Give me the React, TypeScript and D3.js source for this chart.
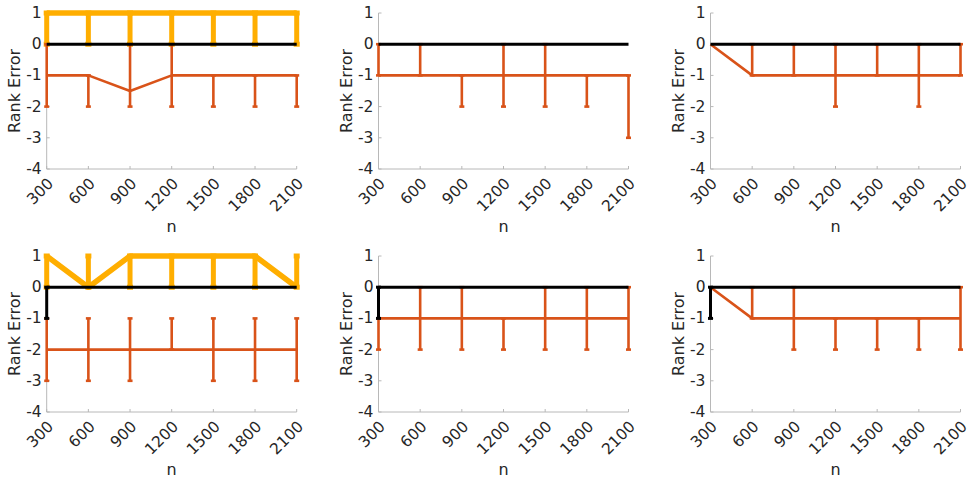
import React from "react";
import * as d3 from "d3";

const nValues = [300, 600, 900, 1200, 1500, 1800, 2100];
const yTicks = [-4, -3, -2, -1, 0, 1];
const xLabel = "n";
const yLabel = "Rank Error";

// Panel 1
const p1Yellow = [1, 1, 1, 1, 1, 1, 1];
const p1YellowLow = [0, 0, 0, 0, 0, 0, 0];
const p1YellowHigh = [1, 1, 1, 1, 1, 1, 1];
const p1Black = [0, 0, 0, 0, 0, 0, 0];
const p1Red = [-1, -1, -1.5, -1, -1, -1, -1];
const p1RedLow = [-2, -2, -2, -2, -2, -2, -2];
const p1RedHigh = [0, -1, 0, 0, -1, -1, -1];

// Panel 2
const p2Black = [0, 0, 0, 0, 0, 0, 0];
const p2Red = [-1, -1, -1, -1, -1, -1, -1];
const p2RedLow = [-1, -1, -2, -2, -2, -2, -3];
const p2RedHigh = [0, 0, -1, 0, 0, -1, -1];

// Panel 3
const p3Black = [0, 0, 0, 0, 0, 0, 0];
const p3Red = [0, -1, -1, -1, -1, -1, -1];
const p3RedLow = [0, -1, -1, -2, -1, -2, -1];
const p3RedHigh = [0, 0, 0, 0, 0, 0, 0];

// Panel 4
const p4Yellow = [1, 0, 1, 1, 1, 1, 0];
const p4YellowLow = [0, 0, 0, 0, 0, 0, 0];
const p4YellowHigh = [1, 1, 1, 1, 1, 1, 1];
const p4Black = [0, 0, 0, 0, 0, 0, 0];
const p4BlackLow = [-1, 0, 0, 0, 0, 0, 0];
const p4BlackHigh = [0, 0, 0, 0, 0, 0, 0];
const p4Red = [-2, -2, -2, -2, -2, -2, -2];
const p4RedLow = [-3, -3, -3, -2, -3, -3, -3];
const p4RedHigh = [-1, -1, -1, -1, -1, -1, -1];

// Panel 5
const p5Black = [0, 0, 0, 0, 0, 0, 0];
const p5BlackLow = [-1, 0, 0, 0, 0, 0, 0];
const p5BlackHigh = [0, 0, 0, 0, 0, 0, 0];
const p5Red = [-1, -1, -1, -1, -1, -1, -1];
const p5RedLow = [-2, -2, -2, -2, -2, -2, -2];
const p5RedHigh = [-1, 0, 0, -1, 0, 0, 0];

// Panel 6
const p6Black = [0, 0, 0, 0, 0, 0, 0];
const p6BlackLow = [-1, 0, 0, 0, 0, 0, 0];
const p6BlackHigh = [0, 0, 0, 0, 0, 0, 0];
const p6Red = [0, -1, -1, -1, -1, -1, -1];
const p6RedLow = [0, -1, -2, -2, -2, -2, -2];
const p6RedHigh = [0, 0, 0, -1, -1, -1, 0];

type Series = {
  values: number[];
  low?: number[];
  high?: number[];
  color: string;
  lineWidth: number;
  barWidth: number;
  capWidth: number;
};

const YELLOW = "#FFAE00";
const RED = "#D95319";
const BLACK = "#000000";

const yellowS = (values: number[], low: number[], high: number[]): Series => ({
  values, low, high, color: YELLOW, lineWidth: 5.5, barWidth: 5, capWidth: 6,
});
const redS = (values: number[], low: number[], high: number[]): Series => ({
  values, low, high, color: RED, lineWidth: 2.6, barWidth: 2.6, capWidth: 5,
});
const blackS = (values: number[], low?: number[], high?: number[]): Series => ({
  values, low, high, color: BLACK, lineWidth: 3, barWidth: 3, capWidth: 5,
});

const panels: Series[][] = [
  [yellowS(p1Yellow, p1YellowLow, p1YellowHigh), redS(p1Red, p1RedLow, p1RedHigh), blackS(p1Black)],
  [redS(p2Red, p2RedLow, p2RedHigh), blackS(p2Black)],
  [redS(p3Red, p3RedLow, p3RedHigh), blackS(p3Black)],
  [yellowS(p4Yellow, p4YellowLow, p4YellowHigh), redS(p4Red, p4RedLow, p4RedHigh), blackS(p4Black, p4BlackLow, p4BlackHigh)],
  [redS(p5Red, p5RedLow, p5RedHigh), blackS(p5Black, p5BlackLow, p5BlackHigh)],
  [redS(p6Red, p6RedLow, p6RedHigh), blackS(p6Black, p6BlackLow, p6BlackHigh)],
];

const colX = [46.7, 378.5, 710.5];
const rowY = [13, 256];
const plotW = 250;
const plotH = 156;
const FONT = "DejaVu Sans, sans-serif";
const TEXT = "#262626";
const AXIS = "#b8b8b8";

function Panel({ series, left, top }: { series: Series[]; left: number; top: number }) {
  const x = d3.scaleLinear().domain([300, 2100]).range([0, plotW]);
  const y = d3.scaleLinear().domain([-4, 1]).range([plotH, 0]);
  const line = d3
    .line<number>()
    .x((_, i) => x(nValues[i]))
    .y((d) => y(d));
  return (
    <g transform={`translate(${left},${top})`}>
      {/* axes */}
      <line x1={0} x2={0} y1={0} y2={plotH} stroke={AXIS} strokeWidth={1} />
      <line x1={0} x2={plotW} y1={plotH} y2={plotH} stroke={AXIS} strokeWidth={1} />
      {nValues.map((v) => (
        <line key={"xt" + v} x1={x(v)} x2={x(v)} y1={plotH} y2={plotH - 3} stroke={AXIS} strokeWidth={1} />
      ))}
      {yTicks.map((v) => (
        <line key={"yt" + v} x1={0} x2={3} y1={y(v)} y2={y(v)} stroke={AXIS} strokeWidth={1} />
      ))}
      {yTicks.map((v) => (
        <text
          key={"yl" + v}
          x={-5}
          y={y(v)}
          textAnchor="end"
          dominantBaseline="central"
          fontFamily={FONT}
          fontSize={15.5}
          fill={TEXT}
        >
          {v}
        </text>
      ))}
      {nValues.map((v) => (
        <text
          key={"xl" + v}
          transform={`translate(${x(v) + 4},${plotH + 12}) rotate(-45)`}
          textAnchor="end"
          dominantBaseline="central"
          fontFamily={FONT}
          fontSize={15.5}
          fill={TEXT}
        >
          {v}
        </text>
      ))}
      <text
        x={plotW / 2}
        y={plotH + 63}
        textAnchor="middle"
        fontFamily={FONT}
        fontSize={16}
        fill={TEXT}
      >
        {xLabel}
      </text>
      <text
        transform={`translate(-32,${plotH / 2}) rotate(-90)`}
        textAnchor="middle"
        dominantBaseline="central"
        fontFamily={FONT}
        fontSize={16}
        fill={TEXT}
      >
        {yLabel}
      </text>
      {/* series */}
      {series.map((s, si) => (
        <g key={"s" + si}>
          {s.low &&
            s.high &&
            s.values.map((_, i) => {
              const lo = s.low![i];
              const hi = s.high![i];
              if (lo === hi) return null;
              const cx = x(nValues[i]);
              return (
                <g key={"eb" + i} stroke={s.color} strokeWidth={s.barWidth}>
                  <line x1={cx} x2={cx} y1={y(lo)} y2={y(hi)} />
                  <line x1={cx - s.capWidth / 2} x2={cx + s.capWidth / 2} y1={y(lo)} y2={y(lo)} />
                  <line x1={cx - s.capWidth / 2} x2={cx + s.capWidth / 2} y1={y(hi)} y2={y(hi)} />
                </g>
              );
            })}
          <path d={line(s.values) || ""} fill="none" stroke={s.color} strokeWidth={s.lineWidth} strokeLinejoin="round" />
        </g>
      ))}
    </g>
  );
}

export default function App() {
  return (
    <svg
      width={970}
      height={479}
      style={{ position: "absolute", left: 0, top: 0, background: "#fff" }}
    >
      <rect width={970} height={479} fill="#fff" />
      {panels.map((s, i) => (
        <Panel key={i} series={s} left={colX[i % 3]} top={rowY[Math.floor(i / 3)]} />
      ))}
    </svg>
  );
}
